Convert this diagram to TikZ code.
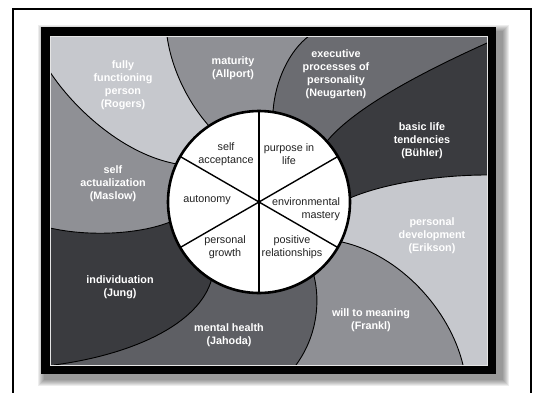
\documentclass[tikz,border=0pt]{standalone}
\usepackage{fontspec}
\setmainfont{Liberation Sans}
\usepackage{xcolor}
\usepackage{tikz}

\definecolor{lightband}{HTML}{C6C8CD}
\definecolor{midband}{HTML}{8F9095}
\definecolor{greyband}{HTML}{6B6C71}
\definecolor{slateband}{HTML}{5E5F64}
\definecolor{darkband}{HTML}{3A3B3F}
\definecolor{inktext}{HTML}{222222}

\begin{document}
\begin{tikzpicture}[
    x=1pt, y=1pt,
    band/.style = {draw=black, line width=0.9pt},
    outer/.style = {
        align=center, text=white, inner sep=0pt,
        font=\fontsize{10.8}{13}\selectfont\bfseries
    },
    inner/.style = {
        align=center, text=inktext, inner sep=0pt,
        font=\fontsize{10.8}{13}\selectfont
    }
  ]
    \useasboundingbox (0,0) rectangle (534,392);

    % page frame
    \draw[line width=2pt] (13,-2) -- (13,383) -- (531,383) -- (531,-2);

    % soft shadow and black mat
    \foreach \s in {0,...,6}
        \fill[black, opacity=0.07] (44-\s,12-\s) rectangle (503+\s,361+\s);
    \fill[black] (41,18) rectangle (496,365);

    \coordinate (c) at (259,190);  % centre of the wheel

    % spiral arms: start on the wheel, two controls, end on the edge
    \coordinate (p1) at (209,266); \coordinate (a1) at (186,292);
    \coordinate (b1) at (171,326); \coordinate (e1) at (167,356);
    \coordinate (p2) at (177,228); \coordinate (a2) at (125,237);
    \coordinate (b2) at (75,282);  \coordinate (e2) at (50,320);
    \coordinate (p3) at (170,170); \coordinate (a3) at (140,158);
    \coordinate (b3) at (90,155);  \coordinate (e3) at (50,164);
    \coordinate (p4) at (212,114); \coordinate (a4) at (200,67);
    \coordinate (b4) at (130,37);  \coordinate (e4) at (54,27);
    \coordinate (p5) at (314,116); \coordinate (a5) at (320,92);
    \coordinate (b5) at (318,57);  \coordinate (e5) at (296,27);
    \coordinate (p6) at (342,150); \coordinate (a6) at (400,137);
    \coordinate (b6) at (450,82);  \coordinate (e6) at (463,27);
    \coordinate (p7) at (350,194); \coordinate (a7) at (385,209);
    \coordinate (b7) at (440,217); \coordinate (e7) at (487,217);
    \coordinate (p8) at (328,252); \coordinate (a8) at (355,284);
    \coordinate (b8) at (420,319); \coordinate (e8) at (487,349);
    \coordinate (p9) at (273,280); \coordinate (a9) at (275,312);
    \coordinate (b9) at (290,342); \coordinate (e9) at (309,356);

    % Rogers
    \fill[lightband] (c) -- (p1) .. controls (a1) and (b1) .. (e1) -- (50,356)
        -- (e2) .. controls (b2) and (a2) .. (p2) -- cycle;
    % Allport
    \fill[midband] (c) -- (p1) .. controls (a1) and (b1) .. (e1)
        -- (e9) .. controls (b9) and (a9) .. (p9) -- cycle;
    % Neugarten
    \fill[greyband] (c) -- (p9) .. controls (a9) and (b9) .. (e9) -- (487,356)
        -- (e8) .. controls (b8) and (a8) .. (p8) -- cycle;
    % Buehler
    \fill[darkband] (c) -- (p8) .. controls (a8) and (b8) .. (e8)
        -- (e7) .. controls (b7) and (a7) .. (p7) -- cycle;
    % Erikson
    \fill[lightband] (c) -- (p7) .. controls (a7) and (b7) .. (e7) -- (487,27)
        -- (e6) .. controls (b6) and (a6) .. (p6) -- cycle;
    % Frankl
    \fill[midband] (c) -- (p6) .. controls (a6) and (b6) .. (e6)
        -- (e5) .. controls (b5) and (a5) .. (p5) -- cycle;
    % Jahoda
    \fill[slateband] (c) -- (p5) .. controls (a5) and (b5) .. (e5)
        -- (e4) .. controls (b4) and (a4) .. (p4) -- cycle;
    % Jung
    \fill[darkband] (c) -- (p4) .. controls (a4) and (b4) .. (e4) -- (50,27)
        -- (e3) .. controls (b3) and (a3) .. (p3) -- cycle;
    % Maslow
    \fill[midband] (c) -- (p3) .. controls (a3) and (b3) .. (e3)
        -- (e2) .. controls (b2) and (a2) .. (p2) -- cycle;

    \foreach \i in {1,...,9}
        \draw[band] (p\i) .. controls (a\i) and (b\i) .. (e\i);
    \draw[white!80!gray, line width=0.8pt] (50,27) rectangle (487,356);

    % the wheel
    \fill[white] (c) circle (91);
    \foreach \a in {30,90,...,330}
        \draw[line width=1.4pt] (c) -- +(\a:91);
    \draw[line width=2.6pt] (c) circle (91);

    \node[inner] (acceptance) at (226,238) {self\\acceptance};
    \node[inner] (purpose) at (289,238) {purpose in\\life};
    \node[inner] (autonomy) at (207,192) {autonomy};
    \node[inner, align=right] (mastery) at (306,183) {environmental\\mastery};
    \node[inner] (growth) at (225,145) {personal\\growth};
    \node[inner] (relations) at (292,145) {positive\\relationships};

    % theories round the wheel
    \node[outer] (rogers) at (123,307) {fully\\functioning\\person\\(Rogers)};
    \node[outer] (allport) at (233,324) {maturity\\(Allport)};
    \node[outer] (neugarten) at (336,318) {executive\\processes of\\personality\\(Neugarten)};
    \node[outer] (buehler) at (422,251) {basic life\\tendencies\\(Bühler)};
    \node[outer] (maslow) at (113,208) {self\\actualization\\(Maslow)};
    \node[outer] (erikson) at (432,156) {personal\\development\\(Erikson)};
    \node[outer] (jung) at (120,105) {individuation\\(Jung)};
    \node[outer] (jahoda) at (229,57) {mental health\\(Jahoda)};
    \node[outer] (frankl) at (371,72) {will to meaning\\(Frankl)};
\end{tikzpicture}
\end{document}
